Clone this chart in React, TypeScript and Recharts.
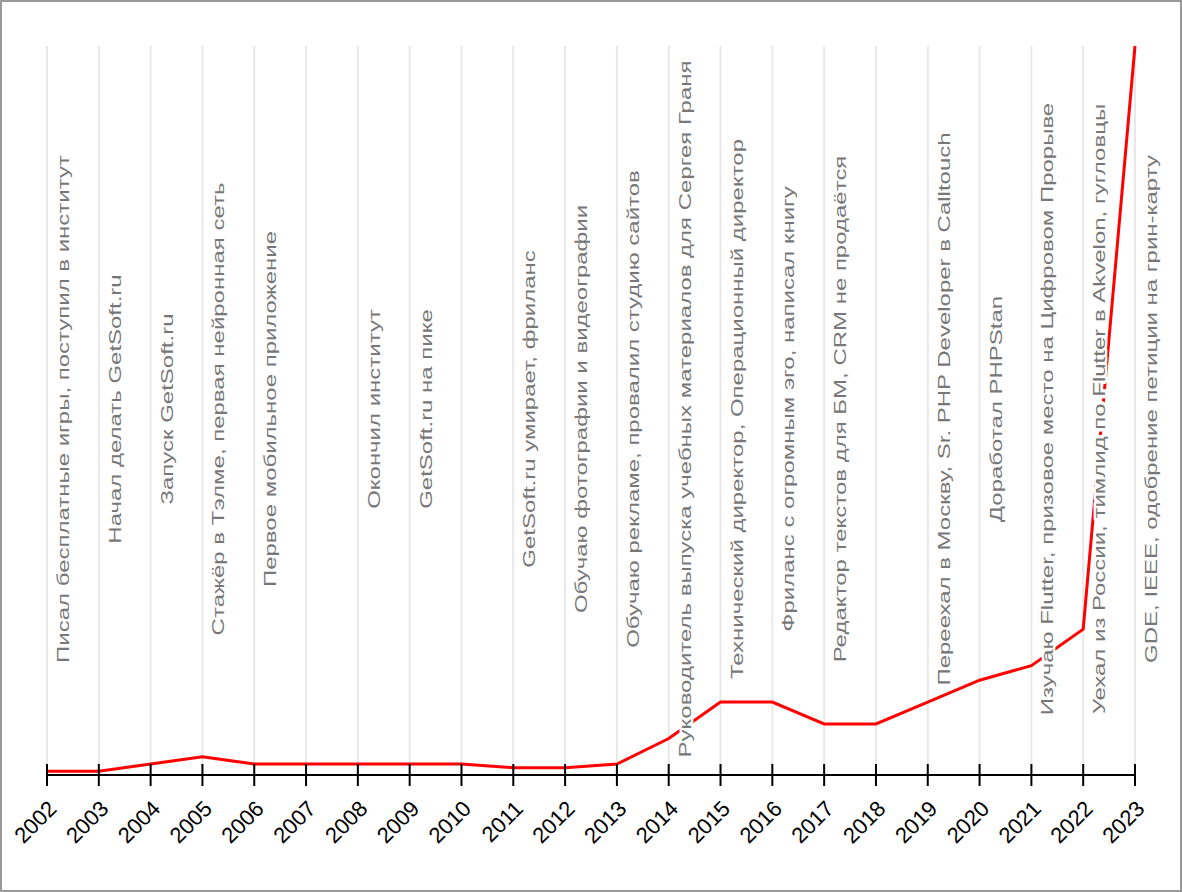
import { LineChart, Line, XAxis, YAxis, CartesianGrid, LabelList } from "recharts"

const years = [
  "2002", "2003", "2004", "2005", "2006", "2007", "2008", "2009", "2010", "2011", "2012",
  "2013", "2014", "2015", "2016", "2017", "2018", "2019", "2020", "2021", "2022", "2023",
]

const level = [0.5, 0.5, 1.5, 2.5, 1.5, 1.5, 1.5, 1.5, 1.5, 1, 1, 1.5, 5, 10, 10, 7, 7, 10, 13, 15, 20, 100]

const notes = [
  "Писал бесплатные игры, поступил в институт",
  "Начал делать GetSoft.ru",
  "Запуск GetSoft.ru",
  "Стажёр в Тэлме, первая нейронная сеть",
  "Первое мобильное приложение",
  "",
  "Окончил институт",
  "GetSoft.ru на пике",
  "",
  "GetSoft.ru умирает, фриланс",
  "Обучаю фотографии и видеографии",
  "Обучаю рекламе, провалил студию сайтов",
  "Руководитель выпуска учебных материалов для Сергея Граня",
  "Технический директор, Операционный директор",
  "Фриланс с огромным эго, написал книгу",
  "Редактор текстов для БМ, CRM не продаётся",
  "",
  "Переехал в Москву, Sr. PHP Developer в Calltouch",
  "Доработал PHPStan",
  "Изучаю Flutter, призовое место на Цифровом Прорыве",
  "Уехал из России, тимлид по Flutter в Akvelon, гугловцы",
  "GDE, IEEE, одобрение петиции на грин-карту",
]

const data = years.map((year, i) => ({ year, level: level[i], note: notes[i] }))

const FONT = "'Liberation Sans', Arial, sans-serif"

// тик с чертой в обе стороны от оси и подписью под 45°
function YearTick(props: any) {
  const { x, y, payload } = props
  const tx = x + 11
  const ty = y + 35
  return (
    <g>
      <line x1={x} y1={y - 11} x2={x} y2={y + 11} stroke="#000" strokeWidth={2} />
      <text
        x={tx}
        y={ty}
        transform={`rotate(-45, ${tx}, ${ty})`}
        textAnchor="end"
        fontSize={22}
        fontFamily={FONT}
        fill="#000"
      >
        {payload.value}
      </text>
    </g>
  )
}

// подпись события, вертикально, с белой обводкой поверх линии
function NoteLabel(props: any) {
  const { x, value } = props
  if (!value) return null
  const nx = x + 22
  const ny = 409
  return (
    <text
      transform={`translate(${nx}, ${ny}) scale(0.67, 1) rotate(-90)`}
      textAnchor="middle"
      fontSize={24}
      fontFamily={FONT}
      fill="#777"
      stroke="#fff"
      strokeWidth={7}
      strokeLinejoin="round"
      style={{ paintOrder: "stroke" }}
    >
      {value}
    </text>
  )
}

export default function App() {
  return (
    <div
      style={{
        position: "absolute",
        left: 0,
        top: 0,
        width: 1182,
        height: 892,
        boxSizing: "border-box",
        border: "2px solid #999",
        background: "#fff",
        overflow: "hidden",
      }}
    >
      <div style={{ position: "absolute", left: -2, top: -2 }}>
        <LineChart width={1182} height={892} data={data} margin={{ top: 46, right: 47, left: 47, bottom: 0 }}>
          <CartesianGrid vertical horizontal={false} stroke="#e8e8e8" strokeWidth={2} />
          <XAxis
            dataKey="year"
            height={117}
            interval={0}
            tickLine={false}
            tickSize={0}
            tickMargin={0}
            axisLine={{ stroke: "#000", strokeWidth: 2 }}
            tick={<YearTick />}
          />
          <YAxis hide domain={[0, 100]} />
          <Line
            type="linear"
            dataKey="level"
            stroke="#ff0000"
            strokeWidth={3}
            dot={false}
            isAnimationActive={false}
          >
            <LabelList dataKey="note" content={<NoteLabel />} />
          </Line>
        </LineChart>
      </div>
    </div>
  )
}
